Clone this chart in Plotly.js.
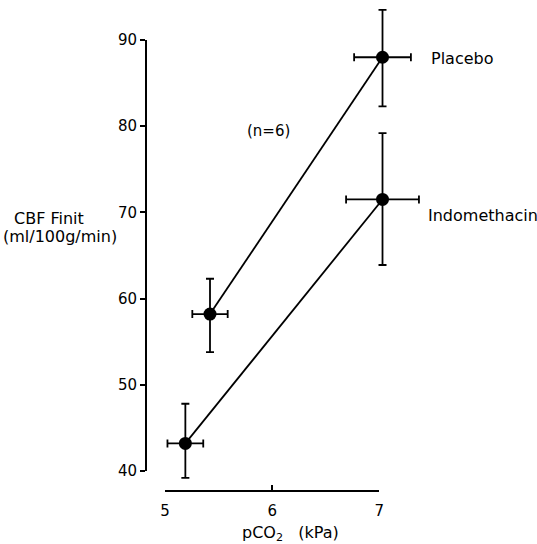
<!DOCTYPE html>
<html><head><meta charset="utf-8">
<script src="https://cdn.plot.ly/plotly-3.0.1.min.js"></script>
<style>html,body{margin:0;padding:0;background:#fff}#chart{width:537px;height:544px}</style>
</head><body><div id="chart"></div>
<script>
// ---- data ----
const seriesNames = ['Placebo', 'Indomethacin'];
const placeboX = [5.42, 7.03];
const placeboY = [58.2, 88.0];
const placeboXErr = [0.165, 0.265];
const placeboYErrPlus = [4.1, 5.5];
const placeboYErrMinus = [4.4, 5.7];
const indoX = [5.19, 7.03];
const indoY = [43.2, 71.5];
const indoXErr = [0.167, 0.34];
const indoYErrPlus = [4.6, 7.7];
const indoYErrMinus = [4.0, 7.6];
const xTicks = [5, 6, 7];
const yTicks = [40, 50, 60, 70, 80, 90];
const xTitle = 'pCO<sub>2</sub>&nbsp;&nbsp;&nbsp;(kPa)';
const yTitle1 = 'CBF Finit';
const yTitle2 = '(ml/100g/min)';
const noteText = '(n=6)';

// ---- layout geometry (pixels) ----
const W = 537, H = 544;
const X5 = 165, X7 = 379.3;     // pixel of x=5 and x=7
const Y90 = 40, Y40 = 471;      // pixel of y=90 and y=40
const xAxisY = 490.7, yAxisX = 146;

const xs = (X7 - X5) / 2;       // px per unit
const ys = (Y40 - Y90) / 50;
const xRange = [5 - X5 / xs, 7 + (W - X7) / xs];
const yRange = [40 - (H - Y40) / ys, 90 + Y90 / ys];

const FONT = 'DejaVu Sans, sans-serif';

function series(name, x, y, xe, yp, ym) {
  return {
    name: name, x: x, y: y, type: 'scatter', mode: 'lines+markers',
    xaxis: 'x', yaxis: 'y', cliponaxis: false, hoverinfo: 'skip',
    line: {color: '#000', width: 1.8},
    marker: {color: '#000', size: 13, symbol: 'circle'},
    error_x: {type: 'data', array: xe, color: '#000', thickness: 1.8, width: 4},
    error_y: {type: 'data', symmetric: false, array: yp, arrayminus: ym, color: '#000', thickness: 1.8, width: 4}
  };
}

const data = [
  series(seriesNames[0], placeboX, placeboY, placeboXErr, placeboYErrPlus, placeboYErrMinus),
  series(seriesNames[1], indoX, indoY, indoXErr, indoYErrPlus, indoYErrMinus),
  {x: [], y: [], xaxis: 'x2', yaxis: 'y2', type: 'scatter', mode: 'markers', showlegend: false, hoverinfo: 'skip'}
];

const layout = {
  width: W, height: H,
  margin: {l: 0, r: 0, t: 0, b: 0, pad: 0},
  paper_bgcolor: '#fff', plot_bgcolor: 'rgba(0,0,0,0)',
  showlegend: false,
  font: {family: FONT, color: '#000', size: 15},
  xaxis: {domain: [0, 1], range: xRange, visible: false, fixedrange: true},
  yaxis: {domain: [0, 1], range: yRange, visible: false, fixedrange: true},
  xaxis2: {
    domain: [X5 / W, X7 / W], range: [5, 7], anchor: 'free', position: 1 - xAxisY / H,
    tickvals: xTicks, ticktext: xTicks.map(String), ticks: 'inside', ticklen: 5, tickwidth: 2, tickcolor: '#000',
    showline: true, linewidth: 2, linecolor: '#000', showgrid: false, zeroline: false,
    tickfont: {family: FONT, size: 15, color: '#000'}, ticklabelstandoff: 6, fixedrange: true
  },
  yaxis2: {
    domain: [1 - Y40 / H, 1 - Y90 / H], range: [40, 90], anchor: 'free', position: yAxisX / W,
    tickvals: yTicks, ticktext: yTicks.map(String), ticks: 'outside', ticklen: 5, tickwidth: 2, tickcolor: '#000',
    showline: true, linewidth: 2, linecolor: '#000', showgrid: false, zeroline: false,
    tickfont: {family: FONT, size: 15, color: '#000'}, fixedrange: true
  },
  annotations: [
    {text: seriesNames[0], xref: 'paper', yref: 'paper', x: 429 / W, y: 1 - 59 / H, xanchor: 'left', yanchor: 'middle', showarrow: false, font: {family: FONT, size: 16}},
    {text: seriesNames[1], xref: 'paper', yref: 'paper', x: 426 / W, y: 1 - 215 / H, xanchor: 'left', yanchor: 'middle', showarrow: false, font: {family: FONT, size: 16}},
    {text: noteText, xref: 'paper', yref: 'paper', x: 268 / W, y: 1 - 131 / H, xanchor: 'center', yanchor: 'middle', showarrow: false, font: {family: FONT, size: 15}},
    {text: yTitle1, xref: 'paper', yref: 'paper', x: 12 / W, y: 1 - 218 / H, xanchor: 'left', yanchor: 'middle', showarrow: false, font: {family: FONT, size: 16}},
    {text: yTitle2, xref: 'paper', yref: 'paper', x: 1 / W, y: 1 - 236 / H, xanchor: 'left', yanchor: 'middle', showarrow: false, font: {family: FONT, size: 16}},
    {text: xTitle, xref: 'paper', yref: 'paper', x: 290 / W, y: 1 - 533 / H, xanchor: 'center', yanchor: 'middle', showarrow: false, font: {family: FONT, size: 16}}
  ]
};

Plotly.newPlot('chart', data, layout, {staticPlot: true, displayModeBar: false});
</script>
</body></html>
